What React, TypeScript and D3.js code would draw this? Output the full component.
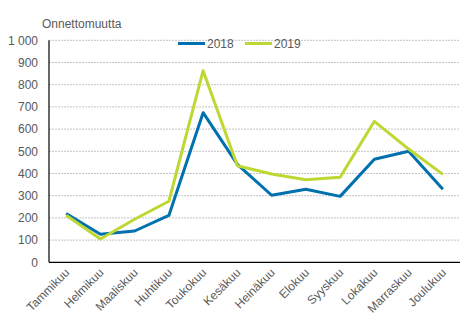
import React from "react";
import * as d3 from "d3";

const months = ["Tammikuu","Helmikuu","Maaliskuu","Huhtikuu","Toukokuu","Kesäkuu","Heinäkuu","Elokuu","Syyskuu","Lokakuu","Marraskuu","Joulukuu"];
const values2018 = [220, 126, 141, 211, 674, 441, 302, 329, 297, 464, 500, 329];
const values2019 = [212, 105, 194, 275, 863, 435, 398, 372, 383, 635, 510, 396];
const yTicks = [0, 100, 200, 300, 400, 500, 600, 700, 800, 900, 1000];
const seriesNames = ["2018", "2019"];
const colors = ["#0070ae", "#bed732"];

export default function App() {
  const W = 474, H = 328;
  const left = 49, right = 460, top = 40.3, bottom = 262.3;
  const x = d3.scaleBand<string>().domain(months).range([left, right]);
  const y = d3.scaleLinear().domain([0, 1000]).range([bottom, top]);
  const line = d3.line<number>()
    .x((_, i) => (x(months[i]) as number) + x.bandwidth() / 2)
    .y((d) => y(d));
  const fmt = (v: number) => (v >= 1000 ? d3.format(",")(v).replace(",", " ") : String(v));
  const font = "'Liberation Sans', Arial, sans-serif";
  const textColor = "#595959";
  const fs = 12;
  return (
    <svg width={W} height={H} style={{ position: "absolute", left: 0, top: 0, background: "#fff" }} fontFamily={font}>
      <text x={42} y={28} fontSize={fs} fill={textColor}>Onnettomuutta</text>
      {yTicks.map((t) => (
        <g key={t}>
          {t > 0 && (
            <line x1={left} x2={right} y1={y(t)} y2={y(t)} stroke="#b4b4b4" strokeWidth={0.8} strokeDasharray="2,1" />
          )}
          <text x={38} y={y(t)} dy="0.35em" textAnchor="end" fontSize={fs} fill={textColor}>{fmt(t)}</text>
        </g>
      ))}
      <line x1={left} x2={left} y1={top} y2={bottom} stroke="#000" strokeWidth={1.2} />
      <line x1={left} x2={right} y1={bottom} y2={bottom} stroke="#000" strokeWidth={1.2} />
      {months.map((m) => {
        const cx = (x(m) as number) + x.bandwidth() / 2;
        return (
          <text key={m} transform={`translate(${cx + 4},${bottom + 11}) rotate(-45)`} textAnchor="end" fontSize={fs} fill={textColor}>{m}</text>
        );
      })}
      {[values2018, values2019].map((vals, i) => (
        <path key={i} d={line(vals) as string} fill="none" stroke={colors[i]} strokeWidth={3} strokeLinejoin="round" />
      ))}
      {seriesNames.map((n, i) => {
        const lx = 178 + i * 67;
        return (
          <g key={n}>
            <line x1={lx} x2={lx + 27} y1={43.5} y2={43.5} stroke={colors[i]} strokeWidth={3} />
            <text x={lx + 29} y={43.5} dy="0.35em" fontSize={fs} fill={textColor}>{n}</text>
          </g>
        );
      })}
    </svg>
  );
}
